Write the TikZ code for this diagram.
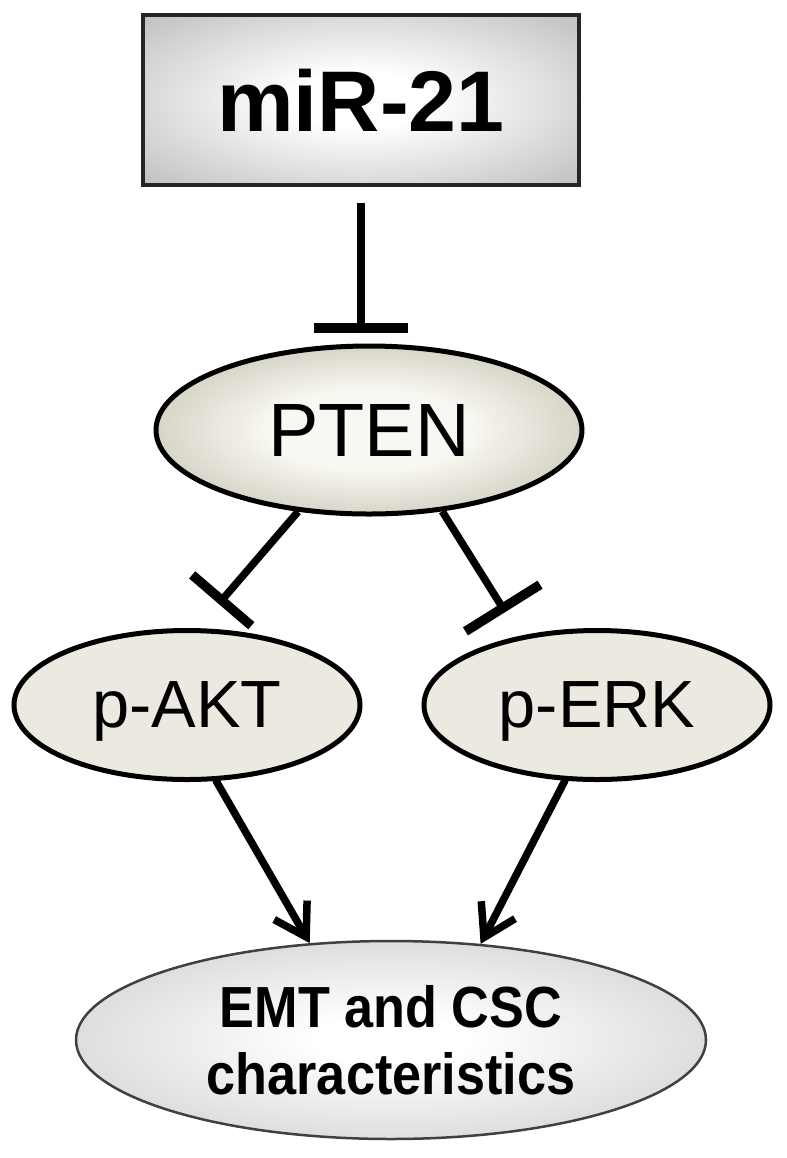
\documentclass[tikz,border=0pt]{standalone}
\usepackage{fontspec}
\setmainfont{Liberation Sans}
\newfontfamily\narrowsans[FakeStretch=0.9]{Liberation Sans}
\usepackage{tikz}
\usetikzlibrary{shapes.geometric, arrows.meta, positioning}
\usepackage{xcolor}
\definecolor{mirgray}{RGB}{158,158,158}
\definecolor{mirdark}{RGB}{138,138,138}
\definecolor{ptenin}{RGB}{248,247,241}
\definecolor{ptenout}{RGB}{152,147,120}
\definecolor{kinasefill}{RGB}{236,234,224}
\definecolor{emtout}{RGB}{178,178,178}
\pgfdeclareradialshading{mirglow}{\pgfpoint{0bp}{0bp}}{color(0bp)=(white); color(8bp)=(white); color(50bp)=(mirgray); color(72bp)=(mirdark)}
\pgfdeclareradialshading{ptenglow}{\pgfpoint{0bp}{0bp}}{color(0bp)=(ptenin); color(12bp)=(ptenin); color(50bp)=(ptenout); color(72bp)=(ptenout)}
\pgfdeclareradialshading{emtglow}{\pgfpoint{0bp}{0bp}}{color(0bp)=(white); color(6bp)=(white); color(50bp)=(emtout); color(72bp)=(emtout)}
\tikzset{
  basebox/.style={align=center, inner sep=0pt},
  mirbox/.style={basebox, rectangle, draw=black!85, line width=0.35mm, shading=mirglow,
    minimum width=43.6mm, minimum height=17mm, font=\bfseries\fontsize{24.5}{29}\selectfont},
  ptennode/.style={basebox, ellipse, draw=black, line width=0.5mm, shading=ptenglow,
    minimum width=42.6mm, minimum height=16.8mm, font=\fontsize{21.5}{26}\selectfont},
  kinasenode/.style={basebox, ellipse, draw=black, line width=0.5mm, fill=kinasefill,
    minimum width=34.6mm, minimum height=14.9mm, text depth=0pt, font=\fontsize{19}{23}\selectfont},
  outcomenode/.style={basebox, ellipse, draw=black!75, line width=0.25mm, shading=emtglow,
    minimum width=63mm, minimum height=19.8mm, font=\narrowsans\bfseries\fontsize{16.5}{19}\selectfont},
  inhibit/.style={line width=0.75mm, -{Bar[width=#1, line width=0.95mm]}},
  activate/.style={line width=0.75mm, line cap=round, -{Straight Barb[length=3.1mm, width=3.8mm]}}
}

\begin{document}
\begin{tikzpicture}[x=0.1mm, y=-0.1mm]
  \useasboundingbox (0,0) rectangle (786,1158);
  \node[mirbox] (mir) at (361,100) {miR-21};
  \node[ptennode] (pten) at (369,430) {PTEN};
  \node[kinasenode] (akt) at (187,705) {p-AKT};
  \node[kinasenode] (erk) at (597,705) {p-ERK};
  \node[outcomenode] (emt) at (391,1040) {EMT and CSC\\characteristics};
  % inhibition
  \draw[inhibit=9.4mm, shorten <=1.6mm, shorten >=1.1mm] (mir.south) -- (mir.south |- pten.north);
  \draw[inhibit=7.8mm, shorten >=3.2mm] (pten.229) -- (akt.82);
  \draw[inhibit=8.8mm, shorten >=2.8mm] (pten.312) -- (erk.138);
  % activation
  \draw[activate] (akt.291) -- (emt.130);
  \draw[activate] (erk.247) -- (emt.47);
\end{tikzpicture}
\end{document}
